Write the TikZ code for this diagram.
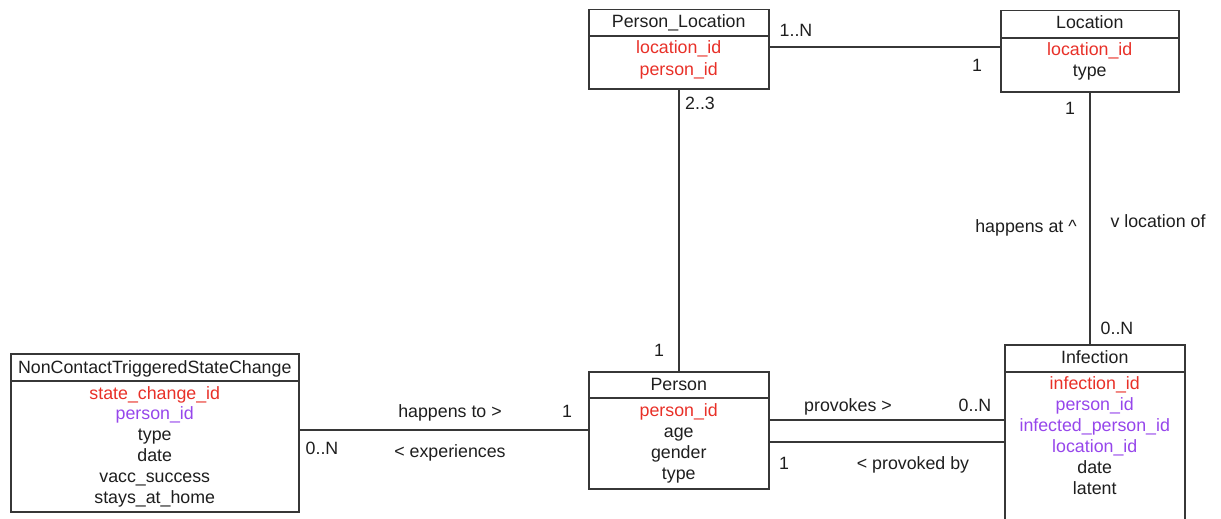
\documentclass[tikz,border=0pt]{standalone}
\usepackage{fontspec}
\setmainfont{Liberation Sans}
\definecolor{keyred}{RGB}{232,48,40}
\definecolor{fkpurple}{RGB}{150,70,235}
\definecolor{edge}{RGB}{55,55,55}
\definecolor{ink}{RGB}{30,30,30}

\begin{document}
\begin{tikzpicture}[x=1pt,y=-1pt,
  ent/.style={draw=edge,line width=1.5pt,rectangle,anchor=north west,inner sep=0pt},
  txt/.style={font=\fontsize{17.8}{21}\selectfont,inner sep=0pt,anchor=base,text=ink},
  link/.style={draw=edge,line width=1.5pt}]
\clip (0,0) rectangle (1221,519);

% ---------- entities ----------
\node[ent,minimum width=180,minimum height=79]  (pl)  at (588,9)   {};
\node[ent,minimum width=178,minimum height=81]  (loc) at (1000,10) {};
\node[ent,minimum width=288,minimum height=158] (nc)  at (10,353)  {};
\node[ent,minimum width=180,minimum height=117] (per) at (588,371) {};
\node[ent,minimum width=180,minimum height=200] (inf) at (1004,344) {};

% header dividers
\draw[link] (pl.west |- 0,36)   -- (pl.east |- 0,36);
\draw[link] (loc.west |- 0,38)  -- (loc.east |- 0,38);
\draw[link] (nc.west |- 0,381)  -- (nc.east |- 0,381);
\draw[link] (per.west |- 0,398) -- (per.east |- 0,398);
\draw[link] (inf.west |- 0,372) -- (inf.east |- 0,372);

% titles
\node[txt] (pl-t)  at (pl.north |- 0,28)   {Person\_Location};
\node[txt] (loc-t) at (loc.north |- 0,29)  {Location};
\node[txt] (nc-t)  at (nc.north |- 0,373)  {NonContactTriggeredStateChange};
\node[txt] (per-t) at (per.north |- 0,390) {Person};
\node[txt] (inf-t) at (inf.north |- 0,363) {Infection};

% attributes
\foreach \t/\c [count=\i from 0] in {location\_id/keyred, person\_id/keyred}
  \node[txt,text=\c] (pl-a\i) at ([yshift=-54-21*\i]pl.north |- 0,0) {\t};
\foreach \t/\c [count=\i from 0] in {location\_id/keyred, type/ink}
  \node[txt,text=\c] (loc-a\i) at ([yshift=-56-21*\i]loc.north |- 0,0) {\t};
\foreach \t/\c [count=\i from 0] in {state\_change\_id/keyred, person\_id/fkpurple,
    type/ink, date/ink, vacc\_success/ink, stays\_at\_home/ink}
  \node[txt,text=\c] (nc-a\i) at ([yshift=-399-20.8*\i]nc.north |- 0,0) {\t};
\foreach \t/\c [count=\i from 0] in {person\_id/keyred, age/ink, gender/ink, type/ink}
  \node[txt,text=\c] (per-a\i) at ([yshift=-416-21*\i]per.north |- 0,0) {\t};
\foreach \t/\c [count=\i from 0] in {infection\_id/keyred, person\_id/fkpurple,
    infected\_person\_id/fkpurple, location\_id/fkpurple, date/ink, latent/ink}
  \node[txt,text=\c] (inf-a\i) at ([yshift=-389-21*\i]inf.north |- 0,0) {\t};

% ---------- relationships ----------
\draw[link] (pl.east |- 0,47) -- (loc.west |- 0,47);
\draw[link] (pl.south) -- (per.north);
\draw[link] (loc.south) -- (loc.south |- inf.north);
\draw[link] (nc.east |- 0,430) -- (per.west |- 0,430);
\draw[link] (per.east |- 0,420) -- (inf.west |- 0,420);
\draw[link] (per.east |- 0,442) -- (inf.west |- 0,442);

% multiplicities and role names
\node[txt] (m1) at (796,37)  {1..N};
\node[txt] (m2) at (977,72)  {1};
\node[txt] (m3) at (700,110) {2..3};
\node[txt] (m4) at (659,356) {1};
\node[txt] (m5) at (1070,114) {1};
\node[txt] (m6) at (1117,334) {0..N};
\node[txt] (r1) at (1026,232) {happens at \textasciicircum};
\node[txt] (r2) at (1158,227) {v location of};
\node[txt] (r3) at (450,417) {happens to >};
\node[txt] (m7) at (567,417) {1};
\node[txt] (m8) at (322,454) {0..N};
\node[txt] (r4) at (450,457) {< experiences};
\node[txt] (r5) at (848,411) {provokes >};
\node[txt] (m9) at (975,411) {0..N};
\node[txt] (m10) at (784,469) {1};
\node[txt] (r6) at (913,469) {< provoked by};
\end{tikzpicture}
\end{document}
